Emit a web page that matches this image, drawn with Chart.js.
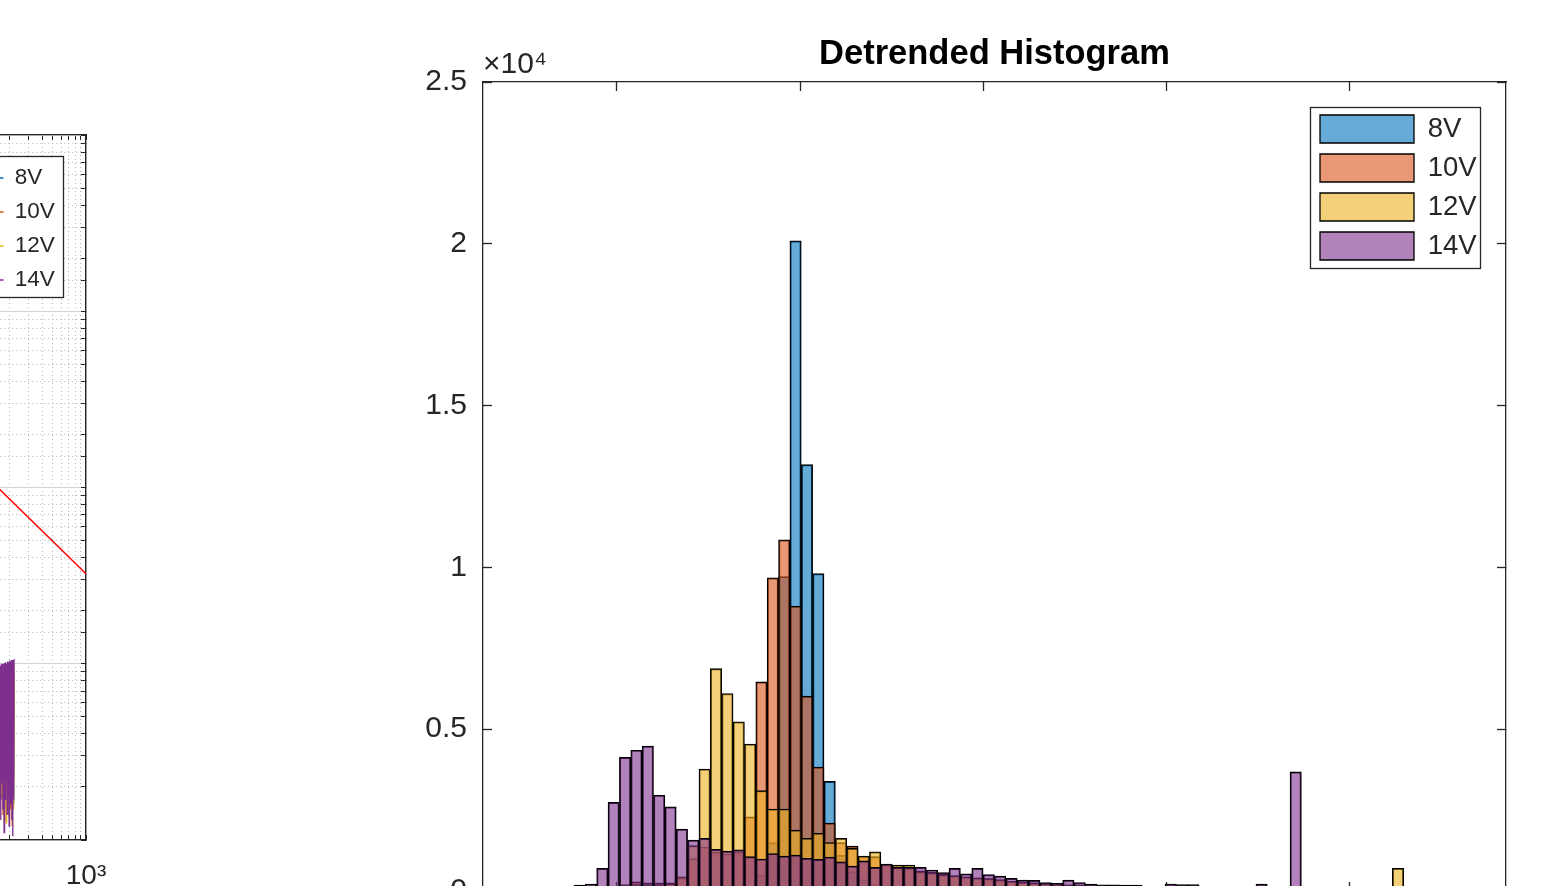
<!DOCTYPE html>
<html>
<head>
<meta charset="utf-8">
<script src="https://cdn.jsdelivr.net/npm/chart.js@4.4.1/dist/chart.umd.min.js"></script>
<style>
  html, body { margin: 0; padding: 0; background: #fff; overflow: hidden; width: 1541px; height: 886px; }
  #spec { position: absolute; left: -500px; top: 0; }
  #hist { position: absolute; left: 0; top: 0; }
</style>
</head>
<body>
<canvas id="spec" width="640" height="950"></canvas>
<canvas id="hist" width="1541" height="950"></canvas>
<script>
// ---------------- DATA: Detrended Histogram ----------------
const SERIES = ['8V', '10V', '12V', '14V'];

// bin centres (category labels), 90 bins
const BIN_CENTERS = [
  '-1.70','-1.64','-1.58','-1.51','-1.45','-1.39','-1.33','-1.27','-1.20','-1.14',
  '-1.08','-1.02','-0.96','-0.89','-0.83','-0.77','-0.71','-0.65','-0.58','-0.52',
  '-0.46','-0.40','-0.34','-0.27','-0.21','-0.15','-0.09','-0.03','0.04','0.10',
  '0.16','0.22','0.28','0.35','0.41','0.47','0.53','0.59','0.66','0.72',
  '0.78','0.84','0.91','0.97','1.03','1.09','1.15','1.22','1.28','1.34',
  '1.40','1.46','1.53','1.59','1.65','1.71','1.77','1.84','1.90','1.96',
  '2.02','2.08','2.15','2.21','2.27','2.33','2.39','2.46','2.52','2.58',
  '2.64','2.70','2.77','2.83','2.89','2.95','3.01','3.08','3.14','3.20',
  '3.26','3.32','3.39','3.45','3.51','3.57','3.63','3.70','3.76','3.82'
];

const COUNTS_8V = [
  0,0,0,0,0,0,0,0,0,0,
  0,0,0,0,0,0,0,0,0,0,
  0,0,50,150,500,1500,9720,20090,13180,9810,
  3390,1100,600,350,200,120,80,50,30,20,
  10,0,0,0,0,0,0,0,0,0,
  0,0,0,0,0,0,0,0,0,0,
  0,0,0,0,0,0,0,0,0,0,
  0,0,0,0,0,0,0,0,0,0,
  0,0,0,0,0,0,0,0,0,0
];
const COUNTS_10V = [
  0,0,0,0,0,0,0,0,0,0,
  40,80,200,280,250,250,250,400,1000,1360,
  1200,1150,1200,2290,6460,9680,10850,8800,6020,3830,
  2100,1500,1390,1060,1060,800,720,700,620,580,
  520,480,440,410,380,340,300,280,250,220,
  200,190,180,160,150,140,130,120,70,60,
  150,150,140,50,40,30,30,40,150,20,
  20,0,0,0,0,0,0,0,0,0,
  0,0,0,0,0,0,0,0,0,0
];
const COUNTS_12V = [
  0,0,0,0,0,0,0,0,0,0,
  30,60,150,200,200,200,220,440,1400,3770,
  6870,6100,5230,4540,3100,2530,2530,1880,1630,1780,
  1500,1630,1320,1080,1210,820,800,800,600,560,
  500,470,430,400,380,350,300,270,250,220,
  200,190,180,170,160,150,140,130,80,70,
  120,130,120,60,50,40,40,50,120,30,
  20,10,0,0,0,0,0,0,0,0,
  700,0,0,0,0,0,0,0,0,0
];
const COUNTS_14V = [
  0,0,0,0,0,0,0,50,180,210,
  700,2740,4130,4350,4480,2960,2600,1910,1570,1630,
  1290,1230,1270,1060,990,1160,1080,1110,1010,980,
  1050,900,770,930,730,830,730,730,730,650,
  570,700,530,700,510,460,390,340,330,260,
  240,340,260,210,190,190,185,185,120,100,
  216,200,200,100,90,80,70,80,210,60,
  50,3680,40,30,20,20,10,10,0,0,
  0,0,0,0,0,0,0,0,0,0
];

const X_MIN = -1.7312, X_MAX = 3.8513;
const X_TICKS = [-1, 0, 1, 2, 3];
const Y_TICKS = [0, 5000, 10000, 15000, 20000, 25000];
const Y_TICK_LABELS = ['0', '0.5', '1', '1.5', '2', '2.5'];

// ---------------- DATA: left (cropped) log-log spectrum ----------------
const FREQ = [158,160,162,164,166,168,170,172,174,176,178,180,182,184,186,188,190,
              192,194,196,198,200,202,204,206,208,210,212,214,216,218,220,222];
const PSD_8V = [6.5e-4,2.4e-4,6.8e-4,2.0e-4,6.6e-4,2.6e-4,7.0e-4,1.7e-4,6.9e-4,2.3e-4,7.1e-4,
                2.5e-4,7.2e-4,1.9e-4,7.0e-4,1.5e-4,7.3e-4,2.2e-4,7.1e-4,2.6e-4,7.4e-4,2.1e-4,
                7.2e-4,1.8e-4,7.5e-4,2.4e-4,7.3e-4,2.0e-4,7.6e-4,2.7e-4,7.4e-4,1.6e-4,7.7e-4];
const PSD_10V = [7.5e-4,1.9e-4,7.8e-4,2.5e-4,7.6e-4,1.7e-4,8.0e-4,2.4e-4,7.9e-4,1.4e-4,8.1e-4,
                 2.2e-4,8.2e-4,2.6e-4,8.0e-4,1.9e-4,8.3e-4,1.6e-4,8.1e-4,2.3e-4,8.4e-4,2.7e-4,
                 8.2e-4,1.5e-4,8.5e-4,2.1e-4,8.3e-4,2.5e-4,8.6e-4,1.8e-4,8.4e-4,2.2e-4,8.7e-4];
const PSD_12V = [8.5e-4,2.1e-4,8.8e-4,1.4e-4,8.6e-4,2.3e-4,9.0e-4,1.8e-4,8.9e-4,2.6e-4,9.1e-4,
                 1.3e-4,9.2e-4,2.0e-4,9.0e-4,1.25e-4,9.3e-4,2.4e-4,9.1e-4,1.9e-4,9.4e-4,1.35e-4,
                 9.2e-4,2.2e-4,9.5e-4,1.6e-4,9.3e-4,1.2e-4,9.6e-4,2.3e-4,9.4e-4,1.5e-4,9.7e-4];
const PSD_14V = [9.6e-4,1.6e-4,9.8e-4,1.9e-4,9.7e-4,1.3e-4,1.0e-3,2.1e-4,9.9e-4,1.5e-4,1.0e-3,
                 1.1e-4,1.01e-3,1.7e-4,1.02e-3,2.2e-4,1.0e-3,1.4e-4,1.03e-3,1.8e-4,1.02e-3,1.2e-4,
                 1.04e-3,1.6e-4,1.03e-3,2.0e-4,1.05e-3,1.3e-4,1.04e-3,1.05e-4,1.05e-3,1.7e-4,1.06e-3];
const FIT_X = [100, 1000];
const FIT_Y = [0.0132, 0.00324];
const SUP = ['\u2070', '\u00B9', '\u00B2', '\u00B3'];

// ---------------- STYLE ----------------
Chart.defaults.font.family = '"Liberation Sans", Arial, Helvetica, sans-serif';
Chart.defaults.color = '#262626';
const AXIS = '#262626';
const HIST_FILL = ['rgba(0,114,189,0.6)', 'rgba(217,83,25,0.6)', 'rgba(237,177,32,0.6)', 'rgba(126,47,142,0.6)'];
const LINE_COLORS = ['#0072BD', '#D95319', '#EDB120', '#7E2F8E'];

// ---------------- HISTOGRAM ----------------
const HIST_COUNTS = [COUNTS_8V, COUNTS_10V, COUNTS_12V, COUNTS_14V];

const histLegendBox = {
  id: 'histLegendBox',
  afterLayout(chart) {
    const L = chart.legend;
    L.left = 1309; L.top = 104;
  },
  afterDraw(chart) {
    const ctx = chart.ctx;
    ctx.save();
    ctx.fillStyle = '#ffffff';
    ctx.fillRect(1310, 107, 170, 161);
    ctx.strokeStyle = AXIS; ctx.lineWidth = 1.3;
    ctx.strokeRect(1310.5, 107.5, 170, 161);
    ctx.restore();
    chart.legend.draw();
  }
};

const linTickAxis = (pos, size) => ({
  type: 'linear', position: pos, min: X_MIN, max: X_MAX, offset: false,
  afterBuildTicks: s => { s.ticks = X_TICKS.map(v => ({ value: v })); },
  afterFit: s => { s.height = size; },
  ticks: { display: false },
  grid: { offset: false, drawOnChartArea: false, tickLength: -9, tickColor: AXIS, tickWidth: 1.3 },
  border: { color: AXIS, width: 1.3 }
});

const xTopAxis = linTickAxis('top', 7.1);
xTopAxis.title = { display: true, text: '\u00D710\u2074', align: 'start', color: AXIS,
                   font: { size: 30 }, padding: { top: -28.5, bottom: 0 } };

new Chart(document.getElementById('hist'), {
  type: 'bar',
  data: {
    labels: BIN_CENTERS,
    datasets: SERIES.map((name, i) => ({
      label: name,
      data: HIST_COUNTS[i],
      backgroundColor: HIST_FILL[i],
      borderColor: '#000000',
      borderWidth: 1.3,
      grouped: false,
      barPercentage: 1,
      categoryPercentage: 1,
      order: 4 - i,
      xAxisID: 'x', yAxisID: 'y'
    }))
  },
  options: {
    responsive: false, animation: false, devicePixelRatio: 1, events: [],
    layout: { padding: 0 },
    scales: {
      x: { type: 'category', display: false, offset: true, grid: { display: false } },
      xTop: xTopAxis,
      xBot: linTickAxis('bottom', 59),
      y: {
        type: 'linear', position: 'left', min: 0, max: 25000,
        afterBuildTicks: s => { s.ticks = Y_TICKS.map(v => ({ value: v })); },
        afterFit: s => { s.width = 483; },
        ticks: { font: { size: 30 }, color: AXIS, padding: 25,
                 callback: (v, i) => Y_TICK_LABELS[i] },
        grid: { drawOnChartArea: false, tickLength: -9, tickColor: AXIS, tickWidth: 1.3 },
        border: { color: AXIS, width: 1.3 }
      },
      y2: {
        type: 'linear', position: 'right', min: 0, max: 25000,
        afterBuildTicks: s => { s.ticks = Y_TICKS.map(v => ({ value: v })); },
        afterFit: s => { s.width = 35; },
        ticks: { display: false },
        grid: { drawOnChartArea: false, tickLength: -9, tickColor: AXIS, tickWidth: 1.3 },
        border: { color: AXIS, width: 1.3 }
      }
    },
    plugins: {
      title: { display: true, text: 'Detrended Histogram', fullSize: false, color: '#000',
               font: { size: 34.5, weight: 'bold' }, padding: { top: 33.5, bottom: 0 } },
      legend: {
        position: 'chartArea', align: 'start',
        labels: { boxWidth: 94, boxHeight: 28, padding: 11, color: AXIS, font: { size: 27.5 },
                  sort: (a, b) => a.datasetIndex - b.datasetIndex }
      },
      tooltip: { enabled: false }
    }
  },
  plugins: [histLegendBox]
});

// ---------------- LEFT (cropped) LOG-LOG PLOT ----------------
const isDecade = v => Math.abs(Math.log10(v) - Math.round(Math.log10(v))) < 1e-9;
const PSD = [PSD_8V, PSD_10V, PSD_12V, PSD_14V];

const specLegendBox = {
  id: 'specLegendBox',
  afterLayout(chart) {
    const L = chart.legend;
    L.left = 462; L.top = 155.25;
  },
  afterDraw(chart) {
    const ctx = chart.ctx;
    ctx.save();
    ctx.fillStyle = '#ffffff';
    ctx.fillRect(380, 156, 183, 141);
    ctx.strokeStyle = AXIS; ctx.lineWidth = 1.3;
    ctx.strokeRect(380.5, 156.5, 183, 141);
    ctx.restore();
    chart.legend.draw();
  }
};

const logGrid = {
  color: c => (c.tick && isDecade(c.tick.value)) ? '#d4d4d4' : '#b4b4b4',
  lineWidth: 1, tickLength: -5, tickColor: AXIS, tickWidth: 1
};
const logBorder = {
  color: AXIS, width: 1.3,
  dash: c => (c.tick && !isDecade(c.tick.value)) ? [1, 3] : []
};

new Chart(document.getElementById('spec'), {
  type: 'line',
  data: {
    datasets: SERIES.map((name, i) => ({
      label: name,
      data: FREQ.map((f, j) => ({ x: f, y: PSD[i][j] })),
      borderColor: LINE_COLORS[i],
      backgroundColor: LINE_COLORS[i],
      borderWidth: 1.3,
      pointRadius: 0,
      order: 4 - i
    })).concat([{
      label: 'fit',
      data: FIT_X.map((f, j) => ({ x: f, y: FIT_Y[j] })),
      borderColor: '#FF0000', backgroundColor: '#FF0000',
      borderWidth: 1.6, pointRadius: 0, order: 0
    }])
  },
  options: {
    responsive: false, animation: false, devicePixelRatio: 1, events: [],
    layout: { padding: 0 },
    scales: {
      x: {
        type: 'logarithmic', position: 'bottom', min: 1, max: 1000,
        afterFit: s => { s.height = 110; },
        ticks: { autoSkip: false, maxRotation: 0, minRotation: 0, font: { size: 28 }, color: AXIS,
                 padding: 24.7,
                 callback: v => isDecade(v) ? '10' + SUP[Math.round(Math.log10(v))] : '' },
        grid: logGrid, border: logBorder
      },
      xTop: {
        type: 'logarithmic', position: 'top', min: 1, max: 1000,
        afterFit: s => { s.height = 135; },
        ticks: { display: false },
        grid: { drawOnChartArea: false, tickLength: -5, tickColor: AXIS },
        border: { color: AXIS, width: 1.3 }
      },
      y: {
        type: 'logarithmic', position: 'left', min: 1e-4, max: 1,
        afterFit: s => { s.width = 256; },
        ticks: { display: false },
        grid: logGrid, border: logBorder
      },
      y2: {
        type: 'logarithmic', position: 'right', min: 1e-4, max: 1,
        afterFit: s => { s.width = 54; },
        ticks: { display: false },
        grid: { drawOnChartArea: false, tickLength: -5, tickColor: AXIS },
        border: { color: AXIS, width: 1.3 }
      }
    },
    plugins: {
      legend: {
        position: 'chartArea', align: 'start',
        labels: { usePointStyle: true, pointStyle: 'line', pointStyleWidth: 30, padding: 11.5,
                  color: AXIS, font: { size: 22.5 },
                  filter: item => item.datasetIndex < 4,
                  sort: (a, b) => a.datasetIndex - b.datasetIndex }
      },
      tooltip: { enabled: false }
    }
  },
  plugins: [specLegendBox]
});
</script>
</body>
</html>
